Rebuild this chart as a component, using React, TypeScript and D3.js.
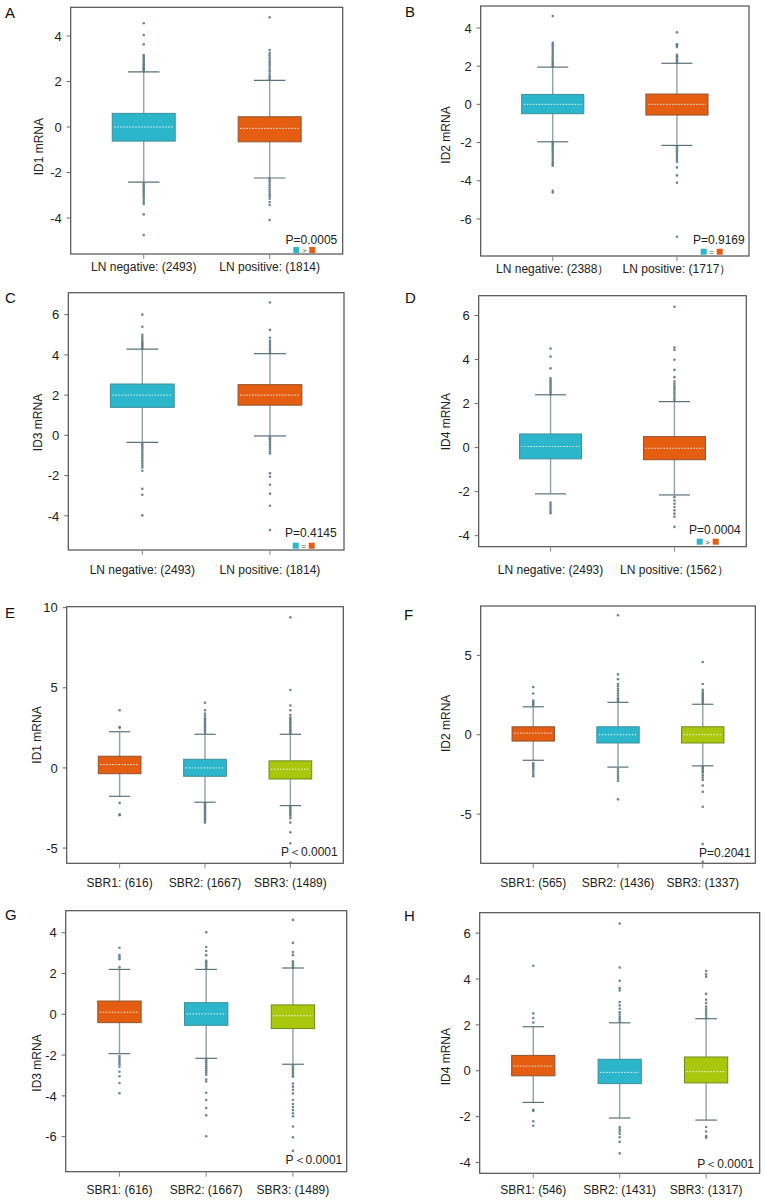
import React from 'react';
import * as d3 from 'd3';

// ---------- data ----------
const catsLN1 = ['LN negative: (2493)', 'LN positive: (1814)'];
const catsLN2 = ['LN negative: (2388）', 'LN positive: (1717）'];
const catsLN4 = ['LN negative: (2493)', 'LN positive: (1562）'];
const catsSBR1 = ['SBR1: (616)', 'SBR2: (1667)', 'SBR3: (1489)'];
const catsSBR2 = ['SBR1: (565)', 'SBR2: (1436)', 'SBR3: (1337)'];
const catsSBR4 = ['SBR1: (546)', 'SBR2: (1431)', 'SBR3: (1317)'];

const ticksA = [-4, -2, 0, 2, 4];
const ticksB = [-6, -4, -2, 0, 2, 4];
const ticksC = [-4, -2, 0, 2, 4, 6];
const ticksD = [-4, -2, 0, 2, 4, 6];
const ticksE = [-5, 0, 5, 10];
const ticksF = [-5, 0, 5];
const ticksG = [-6, -4, -2, 0, 2, 4];
const ticksH = [-4, -2, 0, 2, 4, 6];

const domainA = [-5.58, 5.26];
const domainB = [-7.94, 5.15];
const domainC = [-5.7, 7.09];
const domainD = [-4.5, 6.9];
const domainE = [-5.95, 10.06];
const domainF = [-8.1, 8.11];
const domainG = [-7.72, 5.08];
const domainH = [-4.47, 6.89];

// box statistics
const q1A = [-0.62, -0.65], medA = [0, -0.06], q3A = [0.6, 0.45], loA = [-2.42, -2.24], hiA = [2.42, 2.05];
const q1B = [-0.49, -0.56], medB = [0, 0], q3B = [0.52, 0.54], loB = [-1.96, -2.15], hiB = [1.95, 2.15];
const q1C = [1.39, 1.5], medC = [2.0, 2.0], q3C = [2.55, 2.52], loC = [-0.35, -0.03], hiC = [4.29, 4.06];
const q1D = [-0.51, -0.55], medD = [0.05, -0.03], q3D = [0.62, 0.5], loD = [-2.1, -2.15], hiD = [2.4, 2.09];
const q1E = [-0.36, -0.52, -0.69], medE = [0.21, 0, -0.08], q3E = [0.73, 0.54, 0.44], loE = [-1.77, -2.14, -2.35], hiE = [2.26, 2.1, 2.1];
const q1F = [-0.4, -0.52, -0.52], medF = [0.1, 0, 0], q3F = [0.5, 0.5, 0.5], loF = [-1.61, -2.04, -1.96], hiF = [1.76, 2.04, 1.92];
const q1G = [-0.41, -0.54, -0.7], medG = [0.1, 0.02, -0.07], q3G = [0.65, 0.57, 0.46], loG = [-1.93, -2.16, -2.45], hiG = [2.2, 2.2, 2.27];
const q1H = [-0.22, -0.56, -0.53], medH = [0.2, -0.07, -0.04], q3H = [0.67, 0.5, 0.6], loH = [-1.38, -2.06, -2.15], hiH = [1.92, 2.09, 2.27];

// outliers
const outA = [
  [2.47, 2.52, 2.58, 2.63, 2.7, 2.76, 2.82, 2.88, 2.95, 3.02, 3.1, 3.16, 3.63, 4.04, 4.56,
   -2.48, -2.55, -2.62, -2.7, -2.78, -2.86, -2.94, -3.02, -3.1, -3.2, -3.3, -3.38, -3.84, -4.75],
  [2.1, 2.18, 2.25, 2.35, 2.45, 2.55, 2.65, 2.75, 2.85, 2.95, 3.05, 3.15, 3.25, 3.38, 4.82,
   -2.28, -2.36, -2.45, -2.55, -2.65, -2.75, -2.85, -2.95, -3.05, -3.15, -3.3, -3.43, -4.09],
];
const outB = [
  [2.0, 2.08, 2.16, 2.25, 2.35, 2.45, 2.55, 2.65, 2.75, 2.85, 2.95, 3.05, 3.13, 3.22, 4.62,
   -2.0, -2.08, -2.16, -2.25, -2.35, -2.45, -2.55, -2.65, -2.75, -2.85, -2.95, -3.05, -3.13, -3.21, -4.52, -4.62],
  [2.2, 2.28, 2.36, 2.45, 2.52, 2.6, 3.0, 3.1, 3.15, 3.77,
   -2.2, -2.3, -2.4, -2.5, -2.6, -2.7, -2.8, -2.9, -3.0, -3.3, -3.72, -4.1, -6.93],
];
const outC = [
  [4.32, 4.4, 4.48, 4.55, 4.62, 4.7, 4.8, 4.9, 5.0, 5.4, 6.0,
   -0.4, -0.5, -0.6, -0.7, -0.8, -0.9, -1.0, -1.1, -1.2, -1.3, -1.4, -1.5, -1.6, -1.76, -2.66, -2.95, -3.98],
  [4.1, 4.2, 4.3, 4.4, 4.5, 4.6, 4.7, 4.85, 5.24, 6.6,
   -0.1, -0.2, -0.3, -0.4, -0.5, -0.6, -0.7, -0.8, -0.9, -1.89, -2.06, -2.46, -2.9, -3.5, -4.71],
];
const outD = [
  [2.42, 2.5, 2.58, 2.66, 2.74, 2.82, 2.9, 2.98, 3.06, 3.15, 3.6, 4.14, 4.5,
   -2.5, -2.6, -2.7, -2.8, -2.9, -2.98],
  [2.12, 2.2, 2.3, 2.4, 2.5, 2.6, 2.7, 2.8, 2.9, 3.0, 3.2, 3.53, 3.99, 4.44, 4.55, 6.4,
   -2.25, -2.4, -2.55, -2.7, -2.85, -3.0, -3.14, -3.6],
];
const outE = [
  [2.5, 2.55, 3.6, -2.18, -2.9, -2.95],
  [2.2, 2.3, 2.4, 2.5, 2.6, 2.7, 2.8, 2.9, 3.0, 3.1, 3.25, 3.4, 3.6, 4.07,
   -2.2, -2.3, -2.4, -2.5, -2.6, -2.7, -2.8, -2.9, -3.0, -3.1, -3.2, -3.3, -3.41],
  [2.15, 2.25, 2.35, 2.45, 2.55, 2.65, 2.75, 2.85, 2.95, 3.05, 3.15, 3.3, 3.6, 3.9, 4.86, 9.4,
   -2.4, -2.5, -2.6, -2.7, -2.8, -2.9, -3.0, -3.14, -3.41, -4.01, -4.7, -5.9],
];
const outF = [
  [1.85, 1.95, 2.05, 2.15, 2.6, 3.0, -1.8, -1.9, -2.0, -2.1, -2.2, -2.35, -2.5, -2.62],
  [2.1, 2.2, 2.3, 2.45, 2.6, 2.75, 2.9, 3.05, 3.2, 3.5, 3.8, 7.53,
   -2.15, -2.3, -2.45, -2.6, -2.75, -2.9, -4.07],
  [2.0, 2.1, 2.2, 2.3, 2.4, 2.5, 2.6, 2.7, 2.83, 3.2, 4.58,
   -2.0, -2.1, -2.2, -2.3, -2.4, -2.55, -2.7, -2.85, -3.2, -3.6, -4.54, -6.89, -8.0],
];
const outG = [
  [2.3, 2.7, 2.8, 2.9, 3.26, -2.05, -2.15, -2.25, -2.35, -2.45, -2.57, -2.82, -3.04, -3.37, -3.87],
  [2.25, 2.35, 2.45, 2.55, 2.62, 2.9, 3.1, 3.3, 4.02,
   -2.25, -2.35, -2.45, -2.55, -2.65, -2.75, -2.85, -2.96, -3.2, -3.3, -3.85, -4.2, -4.6, -4.95, -5.98],
  [2.3, 2.4, 2.5, 2.6, 2.9, 3.05, 3.5, 4.63,
   -2.5, -2.6, -2.7, -2.8, -2.9, -3.0, -3.06, -3.4, -3.55, -3.7, -3.88, -4.2, -4.4, -4.55, -4.7, -4.85, -5.0, -5.5, -6.03, -6.7],
];
const outH = [
  [2.1, 2.3, 2.5, 4.58, -1.7, -1.75, -2.2, -2.4],
  [2.15, 2.25, 2.35, 2.45, 2.55, 2.7, 2.85, 3.0, 3.5, 3.6, 3.92, 4.5, 6.42,
   -2.45, -2.55, -2.65, -2.75, -2.9, -3.1, -3.6],
  [2.3, 2.4, 2.5, 2.6, 2.7, 2.8, 2.95, 3.1, 3.35, 4.1, 4.2, 4.35, -2.45, -2.65, -2.85, -2.92],
];

const pTexts = ['P=0.0005', 'P=0.9169', 'P=0.4145', 'P=0.0004', 'P＜0.0001', 'P=0.2041', 'P＜0.0001', 'P＜0.0001'];
const legendSymbols = ['>', '=', '=', '>', '', '', '', ''];
const yLabels = ['ID1 mRNA', 'ID2 mRNA', 'ID3 mRNA', 'ID4 mRNA', 'ID1 mRNA', 'ID2 mRNA', 'ID3 mRNA', 'ID4 mRNA'];
const letters = ['A', 'B', 'C', 'D', 'E', 'F', 'G', 'H'];

// ---------- styles ----------
const TEAL = '#2bb6cc';
const ORANGE = '#e45d10';
const LIME = '#a9c70c';
const STROKES: Record<string, string> = { [TEAL]: '#3f8e9b', [ORANGE]: '#8f5430', [LIME]: '#6e8a1e' };
const FONT = '"Liberation Sans", Arial, Helvetica, sans-serif';

// ---------- layout (pixel frames of each panel) ----------
const layouts = [
  { L: 70.7, R: 342.7, T: 7.3, B: 254, lx: 5, ly: 18, ylx: 39.3, yly: 146.7, xly: 271, pR: 337.3, pB: 244.3, legY: 250 },
  { L: 480.7, R: 749, T: 6, B: 256, lx: 405, ly: 17, ylx: 446.3, yly: 135, xly: 272.6, pR: 744.7, pB: 244.3, legY: 251.7 },
  { L: 68.3, R: 344, T: 292.7, B: 550, lx: 5, ly: 303, ylx: 37.7, yly: 422.5, xly: 574.3, pR: 336.7, pB: 536.6, legY: 545.7 },
  { L: 478.7, R: 746.3, T: 295.7, B: 546.7, lx: 405, ly: 303, ylx: 446.3, yly: 421.7, xly: 574.3, pR: 740.7, pB: 534.3, legY: 541.7 },
  { L: 66.7, R: 343.3, T: 606.7, B: 863.3, lx: 5, ly: 618, ylx: 36.7, yly: 735, xly: 887, pR: 337.7, pB: 856, legY: 0 },
  { L: 480.7, R: 755.3, T: 606, B: 863.3, lx: 404, ly: 620, ylx: 446.3, yly: 723.3, xly: 887, pR: 750.7, pB: 856.6, legY: 0 },
  { L: 65.7, R: 346.7, T: 910.7, B: 1171.7, lx: 5, ly: 920, ylx: 36.7, yly: 1063, xly: 1194.3, pR: 342.3, pB: 1163.6, legY: 0 },
  { L: 479.7, R: 759.7, T: 912.7, B: 1173.3, lx: 404, ly: 921, ylx: 446.3, yly: 1056.7, xly: 1194.3, pR: 754, pB: 1168.3, legY: 0 },
];

const panels = [
  { cats: catsLN1, ticks: ticksA, domain: domainA, q1: q1A, med: medA, q3: q3A, lo: loA, hi: hiA, out: outA, colors: [TEAL, ORANGE] },
  { cats: catsLN2, ticks: ticksB, domain: domainB, q1: q1B, med: medB, q3: q3B, lo: loB, hi: hiB, out: outB, colors: [TEAL, ORANGE] },
  { cats: catsLN1, ticks: ticksC, domain: domainC, q1: q1C, med: medC, q3: q3C, lo: loC, hi: hiC, out: outC, colors: [TEAL, ORANGE] },
  { cats: catsLN4, ticks: ticksD, domain: domainD, q1: q1D, med: medD, q3: q3D, lo: loD, hi: hiD, out: outD, colors: [TEAL, ORANGE] },
  { cats: catsSBR1, ticks: ticksE, domain: domainE, q1: q1E, med: medE, q3: q3E, lo: loE, hi: hiE, out: outE, colors: [ORANGE, TEAL, LIME] },
  { cats: catsSBR2, ticks: ticksF, domain: domainF, q1: q1F, med: medF, q3: q3F, lo: loF, hi: hiF, out: outF, colors: [ORANGE, TEAL, LIME] },
  { cats: catsSBR1, ticks: ticksG, domain: domainG, q1: q1G, med: medG, q3: q3G, lo: loG, hi: hiG, out: outG, colors: [ORANGE, TEAL, LIME] },
  { cats: catsSBR4, ticks: ticksH, domain: domainH, q1: q1H, med: medH, q3: q3H, lo: loH, hi: hiH, out: outH, colors: [ORANGE, TEAL, LIME] },
];

function Panel({ idx }: { idx: number }) {
  const p = panels[idx];
  const l = layouts[idx];
  const y = d3.scaleLinear().domain(p.domain).range([l.B, l.T]);
  const x = d3.scalePoint<string>().domain(p.cats).range([l.L, l.R]).padding(p.cats.length === 2 ? 0.58 : 0.62);
  const bw = x.step() * 0.5;
  const cw = bw * 0.5;
  return (
    <g>
      <text x={l.lx} y={l.ly} fontSize={15} fontFamily={FONT} fill="#111">{letters[idx]}</text>
      {p.cats.map((c, i) => {
        const cx = x(c)!;
        const fill = p.colors[i];
        return (
          <g key={c}>
            <line x1={cx} x2={cx} y1={y(p.hi[i])} y2={y(p.lo[i])} stroke="#8ea2a7" strokeWidth={1.4} />
            <line x1={cx - cw / 2} x2={cx + cw / 2} y1={y(p.hi[i])} y2={y(p.hi[i])} stroke="#5d7177" strokeWidth={1.2} />
            <line x1={cx - cw / 2} x2={cx + cw / 2} y1={y(p.lo[i])} y2={y(p.lo[i])} stroke="#5d7177" strokeWidth={1.2} />
            <rect x={cx - bw / 2} y={y(p.q3[i])} width={bw} height={y(p.q1[i]) - y(p.q3[i])} fill={fill} stroke={STROKES[fill]} strokeWidth={1} />
            <line x1={cx - bw / 2 + 2} x2={cx + bw / 2 - 2} y1={y(p.med[i])} y2={y(p.med[i])} stroke="#ffffff" strokeOpacity={0.9} strokeWidth={1} strokeDasharray="1.5,1.5" />
            {p.out[i].map((v, k) => (
              <circle key={k} cx={cx} cy={y(v)} r={1.3} fill="#56737a" fillOpacity={0.85} />
            ))}
          </g>
        );
      })}
      <rect x={l.L} y={l.T} width={l.R - l.L} height={l.B - l.T} fill="none" stroke="#505050" strokeWidth={1.2} />
      {p.ticks.map((t) => (
        <g key={t}>
          <line x1={l.L - 4} x2={l.L} y1={y(t)} y2={y(t)} stroke="#666" strokeWidth={1} />
          <text x={l.L - 9} y={y(t) + 4.7} textAnchor="end" fontSize={13} fontFamily={FONT} fill="#222">{t}</text>
        </g>
      ))}
      {p.cats.map((c) => (
        <g key={'x' + c}>
          <line x1={x(c)} x2={x(c)} y1={l.B} y2={l.B + 5} stroke="#888" strokeWidth={1} />
          <text x={x(c)} y={l.xly} textAnchor="middle" fontSize={12} fontFamily={FONT} fill="#222">{c}</text>
        </g>
      ))}
      <text transform={`translate(${l.ylx},${l.yly}) rotate(-90)`} textAnchor="middle" dominantBaseline="central" fontSize={12} fontFamily={FONT} fill="#222">{yLabels[idx]}</text>
      <text x={l.pR} y={l.pB} textAnchor="end" fontSize={12} fontFamily={FONT} fill="#222">{pTexts[idx]}</text>
      {legendSymbols[idx] && (
        <g>
          <rect x={l.pR - 33 - 11} y={l.legY - 3} width={6} height={6} fill={p.colors[0]} />
          <text x={l.pR - 33} y={l.legY + 2.8} textAnchor="middle" fontSize={8} fontFamily={FONT} fill="#444">{legendSymbols[idx]}</text>
          <rect x={l.pR - 33 + 5} y={l.legY - 3} width={6} height={6} fill={p.colors[1]} />
        </g>
      )}
    </g>
  );
}

export default function App() {
  return (
    <svg width={765} height={1201} style={{ position: 'absolute', left: 0, top: 0, background: '#fff' }}>
      <rect x={0} y={0} width={765} height={1201} fill="#fff" />
      {panels.map((_, i) => <Panel key={i} idx={i} />)}
    </svg>
  );
}
